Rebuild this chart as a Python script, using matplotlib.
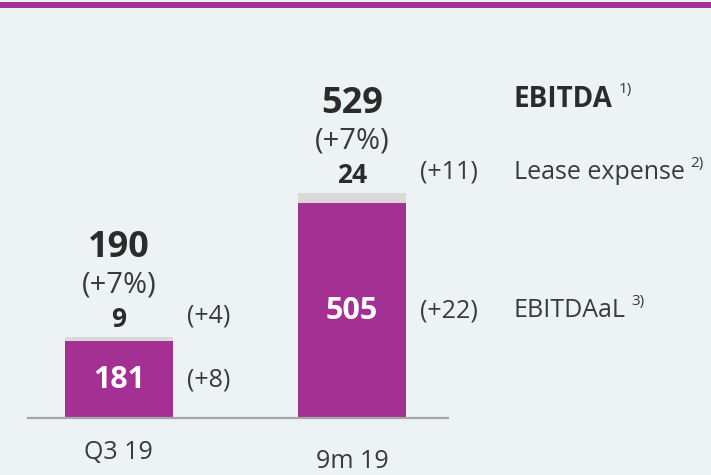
import matplotlib.pyplot as plt
from matplotlib.patches import Rectangle

plt.rcParams['font.family'] = ['Open Sans', 'DejaVu Sans']

periods = ['Q3 19', '9m 19']
ebitdaal = [181, 505]
lease = [9, 24]
ebitda = [190, 529]
ebitda_change = ['(+7%)', '(+7%)']
ebitdaal_change = ['(+8)', '(+22)']
lease_change = ['(+4)', '(+11)']
series_names = ['EBITDA', 'Lease expense', 'EBITDAaL']
footnotes = ['1)', '2)', '3)']

purple = '#a43094'
grey_seg = '#d9d9d9'
bg = '#edf2f5'
txt = '#3a3a3a'

fig = plt.figure(figsize=(7.11, 4.75), dpi=100, facecolor=bg)
ax = fig.add_axes([28 / 711, 57 / 475, 420 / 711, 0.806])
ax.set_facecolor('none')

# band across the top
fig.add_artist(Rectangle((0, 1 - 8 / 475), 1, 6.5 / 475, transform=fig.transFigure,
                         color=purple, lw=0))

x = [0, 1]
w = 0.4635
ax.bar(x, ebitdaal, width=w, color=purple, lw=0)
ax.bar(x, lease, width=w, bottom=ebitdaal, color=grey_seg, lw=0)

ax.set_xlim(-0.39, 1.412)
ax.set_ylim(0, 900)
for s in ['top', 'right', 'left']:
    ax.spines[s].set_visible(False)
ax.spines['bottom'].set_color('#a6a6a6')
ax.spines['bottom'].set_linewidth(1.6)
ax.set_xticks([])
ax.set_yticks([])

side_dx = 0.292
cat_offsets = [-25, -31]
for i in range(2):
    xi = x[i]
    tot = ebitda[i]
    # value inside the purple part
    ax.text(xi, ebitdaal[i] / 2, str(ebitdaal[i]), ha='center', va='center',
            color='white', fontsize=22, fontweight='bold')
    # lease label sits just above the bar
    ax.annotate(str(lease[i]), (xi, tot), xytext=(0, 3), textcoords='offset points',
                ha='center', va='bottom', fontsize=19, fontweight='bold', color='#2b2b2b')
    ax.annotate(ebitda_change[i], (xi, tot), xytext=(0, 27), textcoords='offset points',
                ha='center', va='bottom', fontsize=21, color=txt)
    ax.annotate(str(tot), (xi, tot), xytext=(0, 51), textcoords='offset points',
                ha='center', va='bottom', fontsize=26, fontweight='bold', color='#2b2b2b')
    # changes to the right of each bar
    ax.annotate(lease_change[i], (xi + side_dx, tot), xytext=(0, 15),
                textcoords='offset points', ha='left', va='center', fontsize=18, color=txt,
                annotation_clip=False)
    ax.annotate(ebitdaal_change[i], (xi + side_dx, ebitdaal[i] / 2),
                ha='left', va='center', fontsize=18, color=txt, annotation_clip=False)
    ax.annotate(periods[i], (xi, 0), xytext=(0, cat_offsets[i]), textcoords='offset points',
                ha='center', va='center', fontsize=18, color=txt, annotation_clip=False)

# series names on the right, lined up with the 9m bar
lx = 1.695
rows = [(ebitda[1], 67, 'bold', 20), (ebitda[1], 15, 'normal', 18),
        (ebitdaal[1] / 2, 0, 'normal', 18)]
for name, note, (yv, dy, fw, fs) in zip(series_names, footnotes, rows):
    t = ax.annotate(name, (lx, yv), xytext=(0, dy), textcoords='offset points',
                    ha='left', va='center', fontsize=fs, fontweight=fw,
                    color='#2b2b2b' if fw == 'bold' else txt, annotation_clip=False)
    ax.annotate(note, xy=(1, 0.85), xycoords=t, xytext=(4, 0), textcoords='offset points',
                ha='left', va='center', fontsize=11, color=txt)

fig.savefig('out.png', dpi=100, facecolor=bg)
